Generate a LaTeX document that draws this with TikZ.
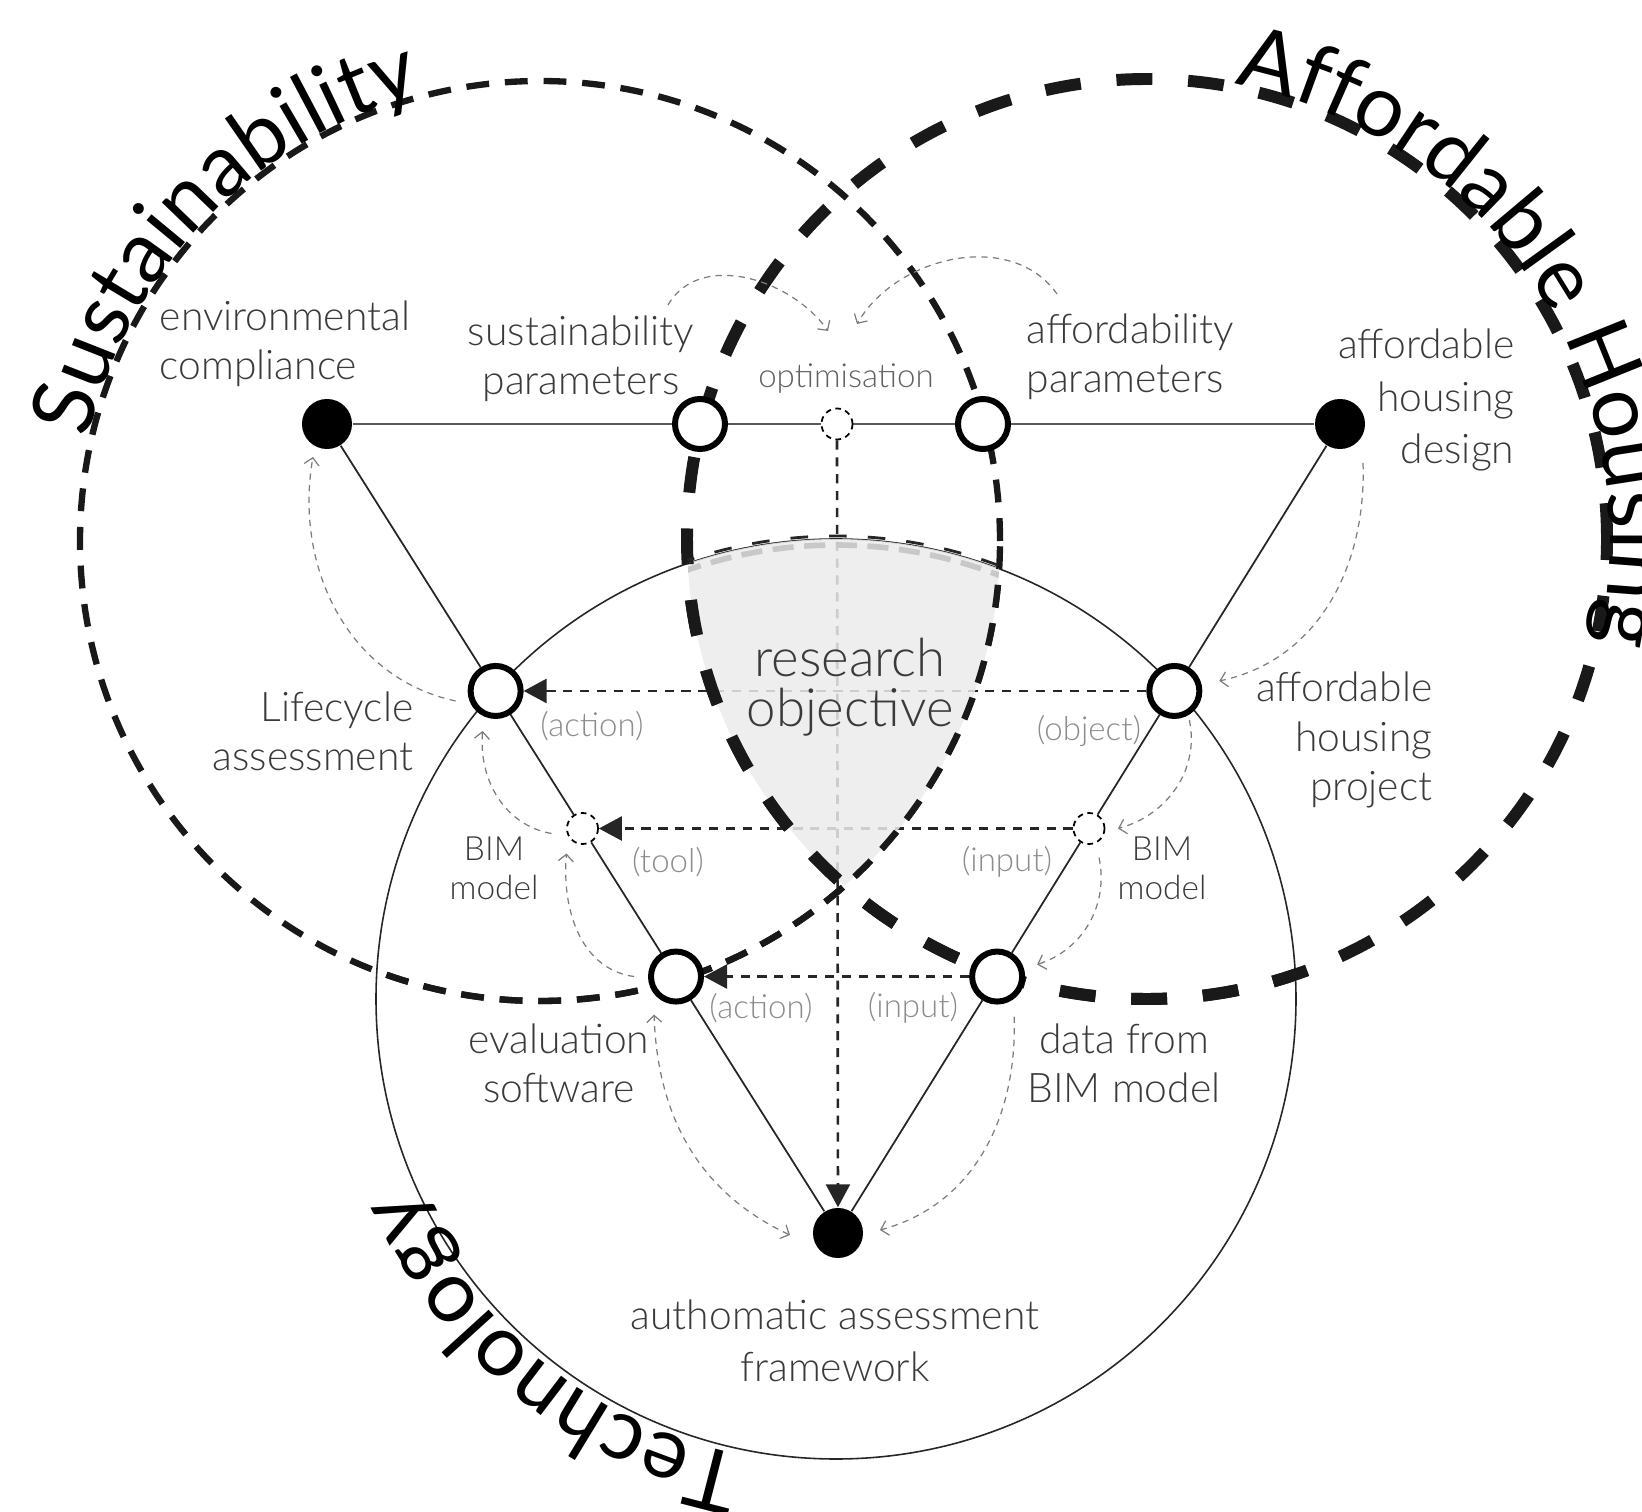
\documentclass[tikz,border=0pt]{standalone}
\usepackage{fontspec}
\setmainfont{Lato Light}
\newfontfamily\ringfont{Lato}
\usetikzlibrary{arrows.meta,calc,decorations.text}
\pgfdeclarelayer{back}
\pgfsetlayers{back,main}
\definecolor{inkgray}{HTML}{3A3A3A}
\definecolor{taggray}{HTML}{8C8C8C}
\definecolor{hintgray}{HTML}{7C7C7C}
\definecolor{zonefill}{HTML}{EBEBEB}
\definecolor{zonedash}{HTML}{C8C8C8}

\begin{document}
\begin{tikzpicture}[
  x=0.01cm,
  y=0.01cm,
  font=\fontsize{11.6}{14}\selectfont,
  barb/.tip={Straight Barb[length=0.7mm,width=1.5mm]},
  solidpt/.style={circle, fill=black, minimum size=0.5cm, inner sep=0pt},
  openpt/.style={circle, draw=black, fill=white, line width=1.7pt,
    minimum size=0.5cm, inner sep=0pt},
  ghostpt/.style={circle, draw=black, fill=white, line width=0.5pt,
    dash pattern=on 1.6pt off 1.3pt, minimum size=0.31cm, inner sep=0pt},
  lbl/.style={text=inkgray, inner sep=0pt},
  small/.style={text=inkgray, inner sep=0pt, font=\fontsize{9.5}{11}\selectfont},
  tag/.style={text=taggray, inner sep=0pt, font=\fontsize{9.4}{10.5}\selectfont},
  edge/.style={draw=black!85, line width=0.5pt},
  flow/.style={-{Triangle[length=2.3mm,width=2.4mm]}, draw=black!85,
    line width=0.75pt, dash pattern=on 2.6pt off 2.2pt},
  hint/.style={-barb, draw=hintgray, line width=0.35pt,
    dash pattern=on 1.8pt off 1.5pt},
  sustring/.style={draw=black!90, line width=1.8pt, dash pattern=on 6.5pt off 4.5pt},
  affring/.style={draw=black!90, line width=3.4pt, dash pattern=on 10.2pt off 10.2pt},
  techring/.style={draw=black!85, line width=0.45pt}
]
\useasboundingbox (0,0) rectangle (1642,1511);

% Ring centres
\coordinate (sustc) at (540,970);
\coordinate (affc) at (1147,972);
\coordinate (techc) at (836,512);

% Triangle corners and steps
\node[solidpt] (env) at (327,1087) {};
\node[solidpt] (ahd) at (1340,1087) {};
\node[solidpt] (aaf) at (838,278) {};
\node[openpt] (sp) at (700,1087) {};
\node[ghostpt] (opt) at (837,1087) {};
\node[openpt] (ap) at (983,1087) {};
\node[openpt] (lca) at ($(env)!0.33!(aaf)$) {};
\node[ghostpt] (bimL) at ($(env)!0.5!(aaf)$) {};
\node[openpt] (eval) at ($(env)!0.683!(aaf)$) {};
\node[openpt] (ahp) at ($(ahd)!0.33!(aaf)$) {};
\node[ghostpt] (bimR) at ($(ahd)!0.5!(aaf)$) {};
\node[openpt] (data) at ($(ahd)!0.683!(aaf)$) {};

% Labels
\node[lbl, anchor=west, align=left] (envtext) at (159,1167)
      {environmental\\compliance};
\node[lbl, align=center] (sptext) at (581,1152)
      {sustainability\\parameters};
\node[tag, text=black!62] (opttext) at (846,1132) {optimisation};
\node[lbl, anchor=west, align=left] (aptext) at (1026,1154)
      {affordability\\parameters};
\node[lbl, anchor=east, align=right, font=\fontsize{11.6}{15}\selectfont]
      (ahdtext) at (1515,1111) {affordable\\housing\\design};
\node[lbl, anchor=east, align=right] (lcatext) at (414,780)
      {Lifecycle\\assessment};
\node[lbl, anchor=east, align=right] (ahptext) at (1433,771)
      {affordable\\housing\\project};
\node[small, align=center] (bimLtext) at (494,643) {BIM\\model};
\node[small, align=center] (bimRtext) at (1162,643) {BIM\\model};
\node[lbl, align=center] (evaltext) at (559,448) {evaluation\\software};
\node[lbl, align=center] (datatext) at (1124,448) {data from\\BIM model};
\node[lbl, align=center, font=\fontsize{11.6}{14.8}\selectfont] (aaftext)
      at (835,170) {authomatic assessment\\framework};
\node[lbl, align=center, font=\fontsize{15}{14.4}\selectfont] (objtext)
      at (850,824) {research\\objective};

% Relation tags
\node[tag] at (592,785) {(action)};
\node[tag] at (1089,780) {(object)};
\node[tag] at (668,649) {(tool)};
\node[tag] at (1007,649) {(input)};
\node[tag] at (761,503) {(action)};
\node[tag] at (913,503) {(input)};

\begin{pgfonlayer}{back}
% Three rings and their titles
\draw[techring] (techc) circle (460);
\draw[sustring] (sustc) circle (460);
\draw[affring] (affc) circle (460);
\path[decorate, decoration={text along path, text align=center, raise=0.03cm,
      text={|\ringfont\fontsize{24.5}{24.5}\selectfont|Sustainability}}]
      ($(sustc)+(206:460)$) arc[start angle=206, end angle=66, radius=460];
\path[decorate, decoration={text along path, text align=center, raise=0.03cm,
      text={|\ringfont\fontsize{24.5}{24.5}\selectfont|Affordable Housing}}]
      ($(affc)+(103.1:460)$) arc[start angle=103.1, end angle=-36.9, radius=460];
\path[decorate, decoration={text along path, text align=center, raise=0.06cm,
      text={|\ringfont\fontsize{24.5}{24.5}\selectfont|Technology}}]
      ($(techc)+(-58.7:460)$) arc[start angle=-58.7, end angle=-198.7, radius=460];

% Triangle edges
\draw[edge, draw=black!65, line width=0.6pt] (env) -- (sp) -- (opt) -- (ap) -- (ahd);
\draw[edge] (env) -- (lca) -- (bimL) -- (eval) -- (aaf);
\draw[edge] (ahd) -- (ahp) -- (bimR) -- (data) -- (aaf);

% Main dashed relations
\draw[flow] (ahp) -- (lca);
\draw[flow] (bimR) -- (bimL);
\draw[flow] (data) -- (eval);
\draw[flow] (opt) -- (aaf);

% Light hints between steps
\draw[hint] ($(sp)+(-32,119)$) to[out=60, in=125] ($(opt)+(-9,93)$);
\draw[hint] ($(ap)+(74,130)$) to[out=125, in=60] ($(opt)+(20,100)$);
\draw[hint] ($(lca)+(-40,-10)$) to[out=168, in=-100] ($(env)+(-14,-33)$);
\draw[hint] ($(bimL)+(-31,-5)$) to[out=170, in=-95] ($(lca)+(-13,-40)$);
\draw[hint] ($(eval)+(-42,0)$) to[out=172, in=-95] ($(bimL)+(-16,-25)$);
\draw[hint, barb-barb] ($(aaf)+(-48,-2)$) to[out=155, in=-88] ($(eval)+(-22,-38)$);
\draw[hint] ($(ahd)+(23,-39)$) to[out=-88, in=12] ($(ahp)+(45,10)$);
\draw[hint] ($(ahp)+(15,-29)$) to[out=-78, in=15] ($(bimR)+(29,0)$);
\draw[hint] ($(bimR)+(10,-29)$) to[out=-78, in=18] ($(data)+(40,12)$);
\draw[hint] ($(data)+(17,-40)$) to[out=-88, in=15] ($(aaf)+(42,3)$);

% Shared zone of the three rings
\begin{scope}
  \clip (sustc) circle (460);
  \clip (affc) circle (460);
  \fill[zonefill, fill opacity=0.85] (techc) circle (460);
  \draw[zonedash, line width=1.6pt, dash pattern=on 6pt off 3pt]
        ($(techc)+(110:454)$) arc[start angle=110, end angle=68, radius=454];
  \draw[black!85, line width=0.8pt, dash pattern=on 5pt off 6pt]
        ($(techc)+(110:463)$) arc[start angle=110, end angle=68, radius=463];
\end{scope}
\begin{scope}
  \clip (techc) circle (460);
  \draw[sustring] (sustc) circle (460);
  \draw[affring] (affc) circle (460);
\end{scope}
\end{pgfonlayer}
\end{tikzpicture}
\end{document}
